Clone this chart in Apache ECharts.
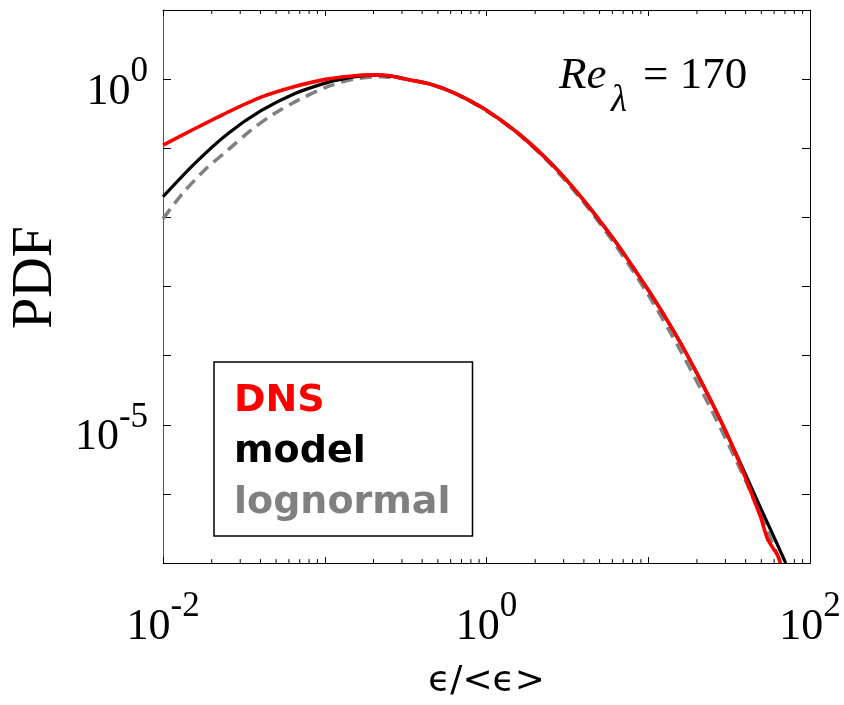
<!DOCTYPE html>
<html>
<head>
<meta charset="utf-8">
<script src="https://cdn.jsdelivr.net/npm/echarts@6/dist/echarts.min.js"></script>
<style>
html,body{margin:0;padding:0;background:#fff;}
#chart{width:844px;height:705px;}
</style>
</head>
<body>
<div id="chart"></div>
<script>
// ---------- data ----------
const seriesNames = ['DNS', 'model', 'lognormal'];

const xDNS = [0.01, 0.01578, 0.02523, 0.04036, 0.06442, 0.1030, 0.1648, 0.2084, 0.2512, 0.3334, 0.4467, 0.6310,
  1.0, 1.585, 2.512, 3.981, 6.310, 7.943, 10.0, 12.59, 15.85, 19.95, 25.12, 28.18, 31.62, 35.48, 39.81, 44.67, 49.43, 54.58, 58.88, 62.81, 65.61];
const yDNS = [0.1114, 0.1932, 0.3342, 0.5483, 0.7762, 1.0, 1.140, 1.151, 1.122, 0.9772, 0.8511, 0.6310,
  0.3548, 0.1622, 0.06026, 0.01778, 0.004365, 0.001995, 8.91e-4, 3.80e-4, 1.514e-4, 5.62e-5, 1.95e-5, 1.122e-5, 6.31e-6, 3.39e-6, 1.738e-6, 8.71e-7, 4.68e-7, 2.24e-7, 1.66e-7, 1.32e-7, 1.0e-7];

const xModel = [0.01, 0.01578, 0.02523, 0.04036, 0.06442, 0.1030, 0.1368, 0.1648, 0.2089, 0.2818, 0.3334, 0.4467, 0.6310,
  1.0, 1.585, 2.512, 3.981, 6.310, 7.943, 10.0, 12.59, 15.85, 19.95, 25.12, 28.18, 31.62, 39.81, 50.12, 63.10, 70.79];
const yModel = [0.01995, 0.06109, 0.1637, 0.3491, 0.6109, 0.8913, 1.033, 1.104, 1.143, 1.072, 0.9772, 0.8511, 0.6310,
  0.3548, 0.1622, 0.06026, 0.01778, 0.004365, 0.001995, 8.91e-4, 3.80e-4, 1.514e-4, 5.62e-5, 1.95e-5, 1.122e-5, 6.31e-6, 1.95e-6, 5.89e-7, 1.82e-7, 1.0e-7];

const xLogn = [0.01, 0.01306, 0.01816, 0.02523, 0.03499, 0.04864, 0.07079, 0.1081, 0.15, 0.2239, 0.3162, 0.4467, 0.6310,
  1.0, 1.585, 2.512, 3.981, 6.310, 10.0, 15.85, 25.12, 39.81, 66.07];
const yLogn = [0.00955, 0.02153, 0.04898, 0.09462, 0.1828, 0.3162, 0.5176, 0.8035, 1.0, 1.084, 1.0, 0.8511, 0.6310,
  0.3467, 0.1585, 0.05754, 0.0166, 0.00389, 7.59e-4, 1.175e-4, 1.479e-5, 1.585e-6, 1.0e-7];

// axis ranges and labelled decades
const xRange = [0.01, 100];
const yRange = [1e-7, 10];
const xLabelExps = [-2, 0, 2];
const yLabelExps = [0, -5];
const minorTicksX = [0.02,0.03,0.04,0.05,0.06,0.07,0.08,0.09, 0.2,0.3,0.4,0.5,0.6,0.7,0.8,0.9,
  2,3,4,5,6,7,8,9, 20,30,40,50,60,70,80,90];

// ---------- chart ----------
const zip = (xs, ys) => xs.map((x, i) => [x, ys[i]]);
const serif = '"Liberation Serif", "Times New Roman", serif';
const richLabel = {
  b: { fontSize: 44, fontFamily: serif, color: '#000', lineHeight: 64, height: 64, verticalAlign: 'top' },
  s: { fontSize: 35, fontFamily: serif, color: '#000', lineHeight: 24, height: 24, verticalAlign: 'top' }
};
function expLabel(v, allowed) {
  const e = Math.round(Math.log10(v));
  if (allowed.indexOf(e) < 0) return '';
  return '{b|10}{s|' + e + '}';
}
const chart = echarts.init(document.getElementById('chart'), null, { renderer: 'canvas' });
const axisLine = { show: true, lineStyle: { color: '#000', width: 1 } };

chart.setOption({
  animation: false,
  backgroundColor: '#fff',
  grid: { left: 156, top: 10, right: 34, bottom: 135, containLabel: false },
  xAxis: [
    {
      type: 'log', logBase: 10, min: xRange[0], max: xRange[1], interval: 1, position: 'bottom',
      axisLine: axisLine,
      axisTick: { show: true, inside: true, length: 6, lineStyle: { color: '#000' } },
      splitLine: { show: false },
      axisLabel: { show: true, margin: 32, formatter: v => expLabel(v, xLabelExps), rich: richLabel },
      name: 'ϵ/<ϵ>', nameLocation: 'middle', nameGap: 99,
      nameTextStyle: { fontSize: 36, fontFamily: '"DejaVu Sans", sans-serif', color: '#000' }
    },
    {
      type: 'log', logBase: 10, min: xRange[0], max: xRange[1], interval: 1, position: 'top',
      axisLine: axisLine,
      axisTick: { show: true, inside: true, length: 6, lineStyle: { color: '#000' } },
      splitLine: { show: false }, axisLabel: { show: false }
    }
  ],
  yAxis: [
    {
      type: 'log', logBase: 10, min: yRange[0], max: yRange[1], interval: 1, position: 'left',
      axisLine: { show: true, lineStyle: { color: '#555', width: 1 } },
      axisTick: { show: true, inside: true, length: 8, lineStyle: { color: '#000' } },
      splitLine: { show: false },
      axisLabel: { show: true, margin: 15, padding: [26, 0, 0, 0], formatter: v => expLabel(v, yLabelExps), rich: richLabel },
      name: 'PDF', nameLocation: 'middle', nameGap: 96, nameRotate: 90,
      nameTextStyle: { fontSize: 56, fontFamily: serif, color: '#000', padding: [0, 0, 0, 18] }
    },
    {
      type: 'log', logBase: 10, min: yRange[0], max: yRange[1], interval: 1, position: 'right',
      axisLine: axisLine,
      axisTick: { show: true, inside: true, length: 8, lineStyle: { color: '#000' } },
      splitLine: { show: false }, axisLabel: { show: false }
    }
  ],
  legend: {
    data: [
      { name: 'DNS', textStyle: { color: '#ff0000' } },
      { name: 'model', textStyle: { color: '#000000' } },
      { name: 'lognormal', textStyle: { color: '#808080' } }
    ],
    orient: 'vertical', left: 214, top: 362,
    itemWidth: 0, itemHeight: 0, itemGap: 0,
    padding: [14, 22, 7, 14],
    borderColor: '#000', borderWidth: 1.5, backgroundColor: '#fff',
    selectedMode: false,
    textStyle: { fontSize: 38, fontWeight: 'bold', fontFamily: '"DejaVu Sans", Verdana, sans-serif', lineHeight: 51 }
  },
  graphic: [
    { type: 'text', x: 559, y: 76, style: { text: 'Re', font: 'italic 45px "Liberation Serif"', fill: '#000', verticalAlign: 'middle', align: 'left' } },
    { type: 'text', x: 611, y: 101, style: { text: 'λ', font: 'italic 37px "Liberation Serif"', fill: '#000', verticalAlign: 'middle', align: 'left' } },
    { type: 'text', x: 643, y: 76, style: { text: '= 170', font: '45px "Liberation Serif"', fill: '#000', verticalAlign: 'middle', align: 'left' } }
  ],
  series: [
    {
      name: 'lognormal', type: 'line', data: zip(xLogn, yLogn), showSymbol: false, smooth: 0.3,
      lineStyle: { color: '#808080', width: 3.5, type: [12, 7] }, itemStyle: { color: '#808080' }, z: 2
    },
    {
      name: 'model', type: 'line', data: zip(xModel, yModel), showSymbol: false, smooth: 0.3,
      lineStyle: { color: '#000', width: 3.2 }, itemStyle: { color: '#000' }, z: 3
    },
    {
      name: 'DNS', type: 'line', data: zip(xDNS, yDNS), showSymbol: false, smooth: 0.2,
      lineStyle: { color: '#ff0000', width: 3.6 }, itemStyle: { color: '#ff0000' }, z: 4
    },
    {
      name: 'minorTicks', type: 'custom', data: minorTicksX.map(v => [v, 1]), silent: true, z: 5,
      renderItem: function (params, api) {
        const x = api.value(0);
        const b = api.coord([x, yRange[0]]);
        const t = api.coord([x, yRange[1]]);
        return {
          type: 'group', children: [
            { type: 'line', shape: { x1: b[0], y1: b[1], x2: b[0], y2: b[1] - 4 }, style: { stroke: '#000', lineWidth: 1 } },
            { type: 'line', shape: { x1: t[0], y1: t[1], x2: t[0], y2: t[1] + 4 }, style: { stroke: '#000', lineWidth: 1 } }
          ]
        };
      }
    }
  ]
});
</script>
</body>
</html>
